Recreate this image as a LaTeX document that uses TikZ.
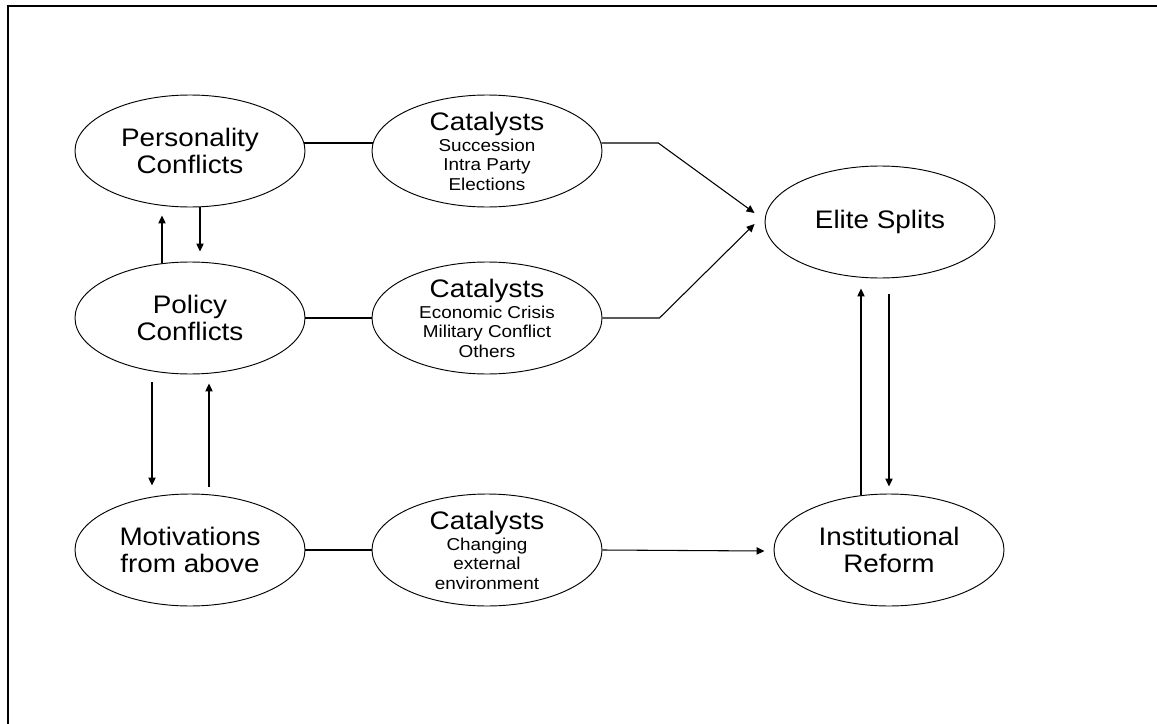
\documentclass[tikz,border=0pt]{standalone}
\usepackage{fontspec}
\setmainfont{Liberation Sans}[FakeStretch=1.1]
\usetikzlibrary{shapes.geometric,arrows.meta}
\begin{document}
\begin{tikzpicture}[x=0.75pt,y=-0.75pt,
  oval/.style={ellipse,draw,line width=0.7pt,minimum width=172.5pt,
    minimum height=84pt,inner sep=0pt,align=center,
    font=\fontsize{19}{20}\selectfont},
  cattext/.style={inner sep=0pt,align=center,
    font=\fontsize{12.9}{14.4}\selectfont},
  link/.style={line width=0.8pt},
  arr/.style={link,-{Triangle[length=6pt,width=5.5pt]}}]
\useasboundingbox (0,0) rectangle (1157,724);
% frame
\draw[line width=1.5pt] (8,724) -- (8,6) -- (1157,6);

% left column
\node[oval] (pc) at (190,151) {Personality\\Conflicts};
\node[oval] (po) at (190,318) {Policy\\Conflicts};
\node[oval] (mo) at (190,550) {Motivations\\from above};

% catalysts
\node[oval] (c1) at (487,151) {};
\node[cattext] (c1t) at (c1) {{\fontsize{19}{20}\selectfont Catalysts}\\[1.9pt]Succession\\Intra Party\\Elections};
\node[oval] (c2) at (487,318) {};
\node[cattext] (c2t) at (c2) {{\fontsize{19}{20}\selectfont Catalysts}\\[1.9pt]Economic Crisis\\Military Conflict\\Others};
\node[oval] (c3) at (487,550) {};
\node[cattext] (c3t) at (c3) {{\fontsize{19}{20}\selectfont Catalysts}\\[1.9pt]Changing\\external\\environment};

% outcomes
\node[oval] (es) at (880,222) {Elite Splits};
\node[oval] (ir) at (889,550) {Institutional\\Reform};

% horizontal links
\draw[link] (pc.4) -- (c1.176);
\draw[link] (po.east) -- (c2.west);
\draw[link] (mo.east) -- (c3.west);
\draw[arr] (c1.4) -- ++(57,0) -- ([shift={(-10,-9)}]es.west);
\draw[arr] (c2.east) -- ++(57,0) -- ([shift={(-10,2)}]es.west);
\draw[arr] (c3.east) -- ([shift={(-9,1)}]ir.west);

% vertical feedback arrows
\draw[arr] ([shift={(-28,1)}]po.north) -- ([shift={(-28,8)}]pc.south);
\draw[arr] ([shift={(10,0)}]pc.south) -- ([shift={(10,-10)}]po.north);
\draw[arr] ([shift={(-38,8)}]po.south) -- ([shift={(-38,-8)}]mo.north);
\draw[arr] ([shift={(19,-7)}]mo.north) -- ([shift={(19,9)}]po.south);
\draw[arr] ([shift={(-28,1.5)}]ir.north) -- ([shift={(-19,10)}]es.south);
\draw[arr] ([shift={(9,16)}]es.south) -- ([shift={(0,-7)}]ir.north);
\end{tikzpicture}
\end{document}
